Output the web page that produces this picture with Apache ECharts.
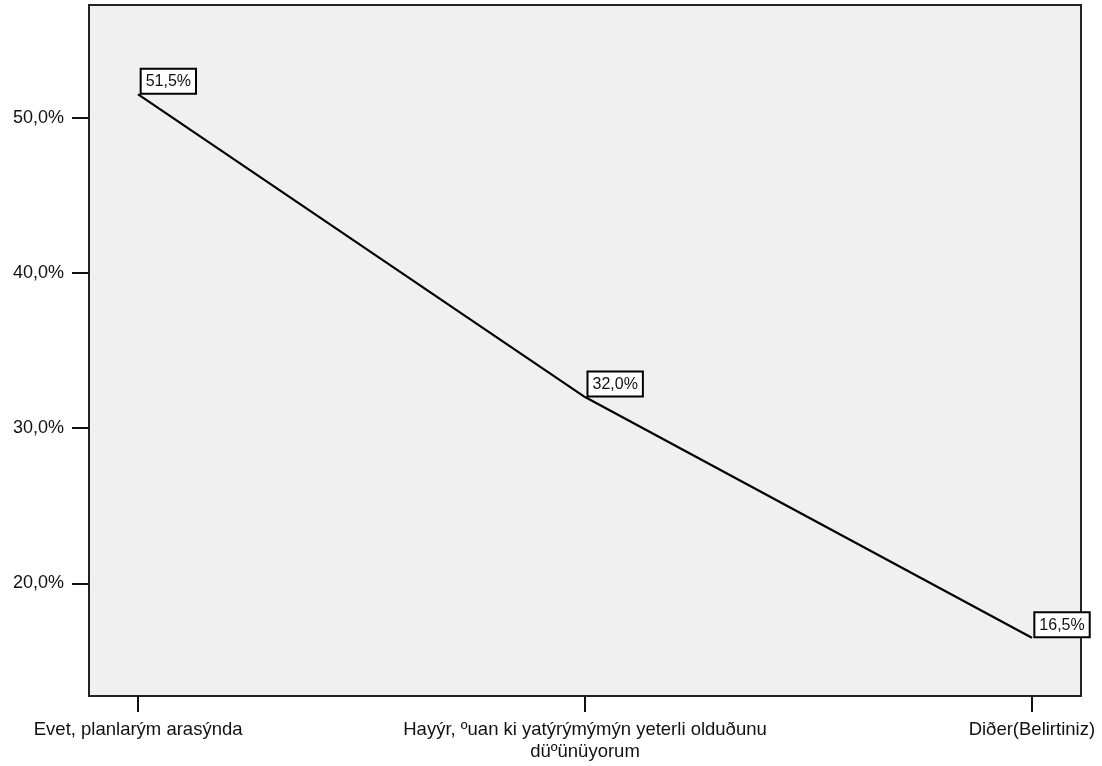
<!DOCTYPE html>
<html>
<head>
<meta charset="utf-8">
<script src="https://cdn.jsdelivr.net/npm/echarts@6/dist/echarts.min.js"></script>
<style>
html,body{margin:0;padding:0;background:#fff;}
#c{width:1102px;height:766px;}
</style>
</head>
<body>
<div id="c"></div>
<script>
const categories = ['Evet, planlarým arasýnda', 'Hayýr, ºuan ki yatýrýmýmýn yeterli olduðunu\ndüºünüyorum', 'Diðer(Belirtiniz)'];
const values = [51.5, 32.0, 16.5];
const yTicks = [20, 30, 40, 50];

const fmt = v => v.toFixed(1).replace('.', ',') + '%';
const chart = echarts.init(document.getElementById('c'));
chart.setOption({
  animation: false,
  backgroundColor: '#ffffff',
  grid: {
    left: 89, top: 5, right: 21, bottom: 70,
    show: true, backgroundColor: '#f0f0f0', borderColor: '#222', borderWidth: 2
  },
  xAxis: {
    type: 'value', min: -0.11, max: 2.11,
    splitLine: { show: false },
    axisLine: { show: true, onZero: false, lineStyle: { color: '#222', width: 2 } },
    axisTick: { show: true, length: 16, customValues: [0, 1, 2], lineStyle: { color: '#111', width: 2 } },
    axisLabel: {
      customValues: [0, 1, 2], margin: 23, fontFamily: 'Liberation Sans, Arial, sans-serif',
      fontSize: 18.5, color: '#111', lineHeight: 22,
      formatter: v => categories[Math.round(v)] || ''
    }
  },
  yAxis: {
    type: 'value', min: 12.75, max: 57.25,
    splitLine: { show: false },
    axisLine: { show: true, onZero: false, lineStyle: { color: '#222', width: 2 } },
    axisTick: { show: true, length: 17, customValues: yTicks, lineStyle: { color: '#111', width: 2 } },
    axisLabel: {
      customValues: yTicks, margin: 25, fontFamily: 'Liberation Sans, Arial, sans-serif',
      fontSize: 18, color: '#111', formatter: v => fmt(v)
    }
  },
  series: [{
    type: 'line',
    data: values.map((v, i) => [i, v]),
    symbol: 'circle', symbolSize: 1, showSymbol: true,
    itemStyle: { color: '#000' },
    lineStyle: { color: '#000', width: 2.2 },
    label: {
      show: true, position: [4, -1], align: 'left', verticalAlign: 'bottom',
      formatter: p => fmt(p.value[1]),
      fontFamily: 'Liberation Sans, Arial, sans-serif', fontSize: 16, color: '#111',
      backgroundColor: '#fff', borderColor: '#000', borderWidth: 2,
      padding: [4, 4, 3, 4]
    }
  }]
});
</script>
</body>
</html>
